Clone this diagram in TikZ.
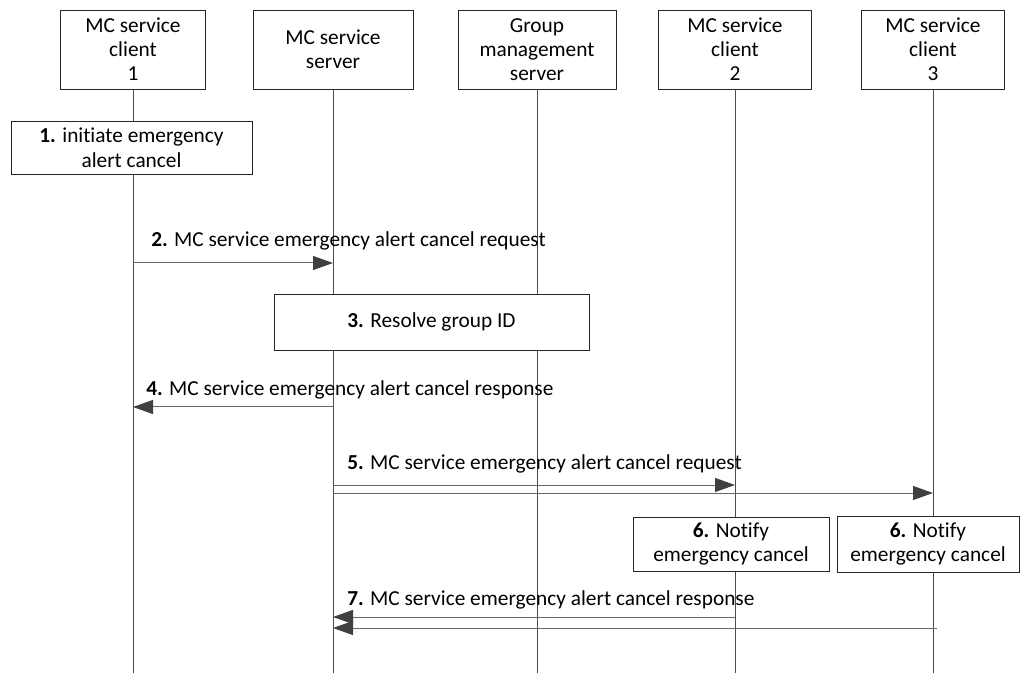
\documentclass[tikz,border=0pt]{standalone}
\usepackage{fontspec}
\setmainfont[Ligatures=NoCommon]{Carlito}
\usetikzlibrary{arrows.meta}

\begin{document}
\begin{tikzpicture}[
  x=0.75pt, y=-0.75pt,
  entity/.style={draw=black!85, fill=white, align=center, inner sep=0pt, minimum height=59.25pt, font=\fontsize{16}{18}\selectfont},
  stepbox/.style={draw=black!85, fill=white, align=center, inner sep=0pt, font=\fontsize{16}{18.5}\selectfont},
  life/.style={draw=black!70, line width=0.75pt},
  call/.style={draw=black!60, line width=0.75pt, -{Triangle[length=15pt, width=10.5pt, color=black!75]}},
  msg/.style={anchor=west, inner sep=0pt, font=\fontsize{16}{18}\selectfont}
]
\useasboundingbox (0,0) rectangle (1021,673);

% Entities
\node[entity, minimum width=108.75pt] (c1)  at (133, 49.5) {MC service\\client\\1};
\node[entity, minimum width=120pt]    (srv) at (333, 49.5) {MC service\\server};
\node[entity, minimum width=118.5pt]  (gms) at (537, 49.5) {Group\\management\\server};
\node[entity, minimum width=114.75pt] (c2)  at (735, 49.5) {MC service\\client\\2};
\node[entity, minimum width=107.25pt] (c3)  at (933, 49.5) {MC service\\client\\3};

% Lifelines
\coordinate (c1e)  at (133, 673);
\coordinate (srve) at (333, 673);
\coordinate (gmse) at (537, 673);
\coordinate (c2e)  at (735, 673);
\coordinate (c3e)  at (933, 673);
\draw[life] (c1) -- (c1e);
\draw[life] (srv) -- (srve);
\draw[life] (gms) -- (gmse);
\draw[life] (c2) -- (c2e);
\draw[life] (c3) -- (c3e);

% Local steps
\node[stepbox, minimum width=180.75pt, minimum height=39.75pt] (s1) at (131.5, 147.5) {\textbf{1.} initiate emergency\\alert cancel};
\node[stepbox, minimum width=236.25pt, minimum height=42pt] (s3) at (431.5, 322) {\textbf{3.} Resolve group ID};
\node[stepbox, minimum width=147pt, minimum height=40.5pt] (s6a) at (731, 544) {\textbf{6.} Notify\\emergency cancel};
\node[stepbox, minimum width=136.5pt, minimum height=42pt] (s6b) at (928, 544) {\textbf{6.} Notify\\emergency cancel};

% Messages
\coordinate (m2s) at (133, 263);  \coordinate (m2e) at (333, 263);
\coordinate (m4s) at (333, 407);  \coordinate (m4e) at (133, 407);
\coordinate (m5s) at (333, 485);  \coordinate (m5e) at (735, 485);
\coordinate (m5t) at (333, 493);  \coordinate (m5f) at (933, 493);
\coordinate (m7s) at (735, 617);  \coordinate (m7e) at (333, 617);
\coordinate (m7t) at (937, 628);  \coordinate (m7f) at (333, 628);
\draw[call] (m2s) -- (m2e);
\draw[call] (m4s) -- (m4e);
\draw[call] (m5s) -- (m5e);
\draw[call] (m5t) -- (m5f);
\draw[call] (m7s) -- (m7e);
\draw[call] (m7t) -- (m7f);
\node[msg] (l2) at (151, 241) {\textbf{2.} MC service emergency alert cancel request};
\node[msg] (l4) at (146, 390) {\textbf{4.} MC service emergency alert cancel response};
\node[msg] (l5) at (347, 464) {\textbf{5.} MC service emergency alert cancel request};
\node[msg] (l7) at (347, 600) {\textbf{7.} MC service emergency alert cancel response};
\end{tikzpicture}
\end{document}
